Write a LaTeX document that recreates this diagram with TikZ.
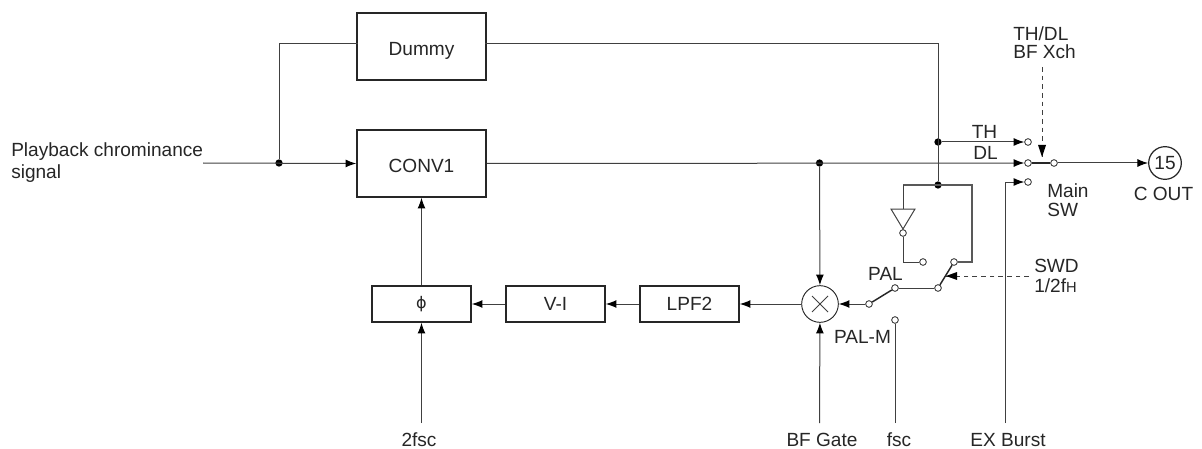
\documentclass[tikz,border=0pt]{standalone}
\usepackage{fontspec}
\setmainfont{Liberation Sans}
\usetikzlibrary{arrows.meta,calc}
\tikzset{
  x=0.75pt,y=-0.75pt,
  lbl/.style={inner sep=0pt,font=\fontsize{14.3pt}{16.5pt}\selectfont,text=black!85,align=left},
  blockbox/.style={draw=black!85,line width=1.2pt,fill=white,inner sep=0pt,lbl,align=center},
  tallbox/.style={blockbox,minimum width=96.75pt,minimum height=50.25pt,text height=12.8pt,text depth=0pt},
  lowbox/.style={blockbox,minimum width=74.25pt,minimum height=27pt,text height=9pt,text depth=0pt},
  wire/.style={draw=black!75,line width=0.75pt},
  heavy/.style={draw=black!65,line width=1pt},
  arm/.style={draw=black!85,line width=1.1pt},
  arr/.style={wire,-{Latex[length=8pt,width=6pt,black]}},
  dashwire/.style={wire,dash pattern=on 3.5pt off 3pt},
  term/.style={circle,draw=black!85,line width=0.6pt,fill=white,minimum size=5pt,inner sep=0pt},
  jun/.style={circle,fill=black,minimum size=5.5pt,inner sep=0pt},
  cir/.style={circle,draw=black!85,line width=0.7pt,fill=white,inner sep=0pt},
}
\begin{document}
\begin{tikzpicture}
\useasboundingbox (0,0) rectangle (1202,449);
% blocks
\node[tallbox] (dummy) at (421.5,46.5) {Dummy};
\node[tallbox] (conv) at (421.5,163.5) {CONV1};
\node[blockbox,minimum width=74.25pt,minimum height=27pt] (phi) at (421.5,304) {\fontspec{DejaVu Sans}\fontsize{12pt}{14pt}\selectfont ϕ};
\node[lowbox] (vi) at (555.5,304) {V-I};
\node[lowbox] (lpf) at (689.5,304) {LPF2};
\node[cir,minimum size=27.5pt] (mult) at (820,304) {};
\draw[wire] ($(mult)+(-8,-8)$) -- ($(mult)+(8,8)$) ($(mult)+(-8,8)$) -- ($(mult)+(8,-8)$);
\node[cir,minimum size=24.5pt,line width=0.9pt,lbl] (pin) at (1165,163) {15};
% junctions and free points
\coordinate (inend) at (203,163);
\node[jun] (j1) at (279,163) {};
\coordinate (b1) at (279,44);
\coordinate (dl) at (358,44);
\coordinate (dr) at (485,44);
\coordinate (t1) at (938,44);
\node[jun] (j2) at (938,142) {};
\node[jun] (j3) at (819.5,163) {};
\node[jun] (j4) at (938,185) {};
\coordinate (lp) at (903,185);
\coordinate (rp) at (972,185);
\coordinate (rd) at (972,262);
% terminals
\node[term] (tTH) at (1028,142) {};
\node[term] (tDL) at (1028,163) {};
\node[term] (tEX) at (1028,182) {};
\node[term] (tOut) at (1054,163) {};
\node[term] (sA) at (869,304) {};
\node[term] (sPAL) at (895,288) {};
\node[term] (sM) at (895,320) {};
\node[term] (sB) at (938,288) {};
\node[term] (sL) at (923,262) {};
\node[term] (sR) at (954,262) {};
% bottom ends
\coordinate (e2f) at (421.5,423);
\coordinate (eBF) at (819.5,423);
\coordinate (efsc) at (895,423);
\coordinate (eEX) at (1005,423);
\coordinate (ex1) at (1005,182);
\coordinate (dTop) at (1042,67);
\coordinate (dTip) at (1042,157);
\coordinate (sTop) at (1029,276);
\coordinate (sTip) at (946,276);
\coordinate (invb) at (903,262);
% main wires
\draw[arr] (inend) -- (conv.west);
\draw[wire] (j1) -- (b1) -- (dl);
\draw[wire] (dr) -- (t1) -- (j4);
\draw[arr] (j2) -- (tTH);
\draw[arr] (conv.east) -- (tDL);
\draw[arr] (ex1 |- eEX) -- (ex1) -- (tEX);
\draw[arr] (tOut) -- (pin);
\draw[arm] (tDL) -- (tOut);
\draw[arr] (j3) -- (mult);
\draw[arr] (phi.north) -- (phi.north |- conv.south);
\draw[arr] (vi) -- (phi);
\draw[arr] (lpf) -- (vi);
\draw[arr] (mult) -- (lpf);
\draw[arr] (sA) -- (mult);
\draw[arr] (e2f) -- (phi);
\draw[arr] (eBF) -- (mult);
\draw[wire] (efsc) -- (sM);
% feedback network
\draw[heavy] (lp) -- (rp) -- (rd) -- (sR);
\draw[wire] (903,185) -- (903,209);
\draw[wire,fill=white] (891,209) -- (915,209) -- (903,229) -- cycle;
\node[term] (bub) at (903,233) {};
\draw[wire] (bub) -- (invb) -- (sL);
\draw[wire] (sPAL) -- (sB);
\draw[arm] (sA) -- (sPAL);
\draw[arm] (sB) -- (sR);
% dashed
\draw[dashwire] (dTop) -- (dTip);
\draw[draw=none,fill=black] (dTip) -- ++(-4,-12) -- ++(8,0) -- cycle;
\draw[dashwire] (sTop) -- (sTip);
\draw[draw=none,fill=black] (sTip) -- ++(11,-4) -- ++(0,8) -- cycle;
% labels
\node[lbl,anchor=north west] (tin) at (11,142.5) {Playback chrominance\\signal};
\node[lbl,anchor=base] (t2f) at (419,446) {2fsc};
\node[lbl,anchor=base] (tBF) at (822,446) {BF Gate};
\node[lbl,anchor=base] (tfsc) at (899,446) {fsc};
\node[lbl,anchor=base] (tEXb) at (1008,446) {EX Burst};
\node[lbl,anchor=base] (tpal) at (885.5,280) {PAL};
\node[lbl,anchor=base] (tpalm) at (862.5,343) {PAL-M};
\node[lbl,anchor=north west,font=\fontsize{14.3pt}{15pt}\selectfont] (tswd) at (1034,259) {SWD\\1/2f{\fontsize{11pt}{12pt}\selectfont H}};
\node[lbl,anchor=north west,font=\fontsize{14.3pt}{14.25pt}\selectfont] (tmain) at (1047,183) {Main\\SW};
\node[lbl,anchor=base] (tcout) at (1163.5,200) {C OUT};
\node[lbl,anchor=north west,font=\fontsize{14.3pt}{13.5pt}\selectfont] (ttop) at (1013,26) {TH/DL\\BF Xch};
\node[lbl,anchor=base] (tth) at (984.5,139) {TH};
\node[lbl,anchor=base] (tdl) at (985.5,160) {DL};
\end{tikzpicture}
\end{document}
